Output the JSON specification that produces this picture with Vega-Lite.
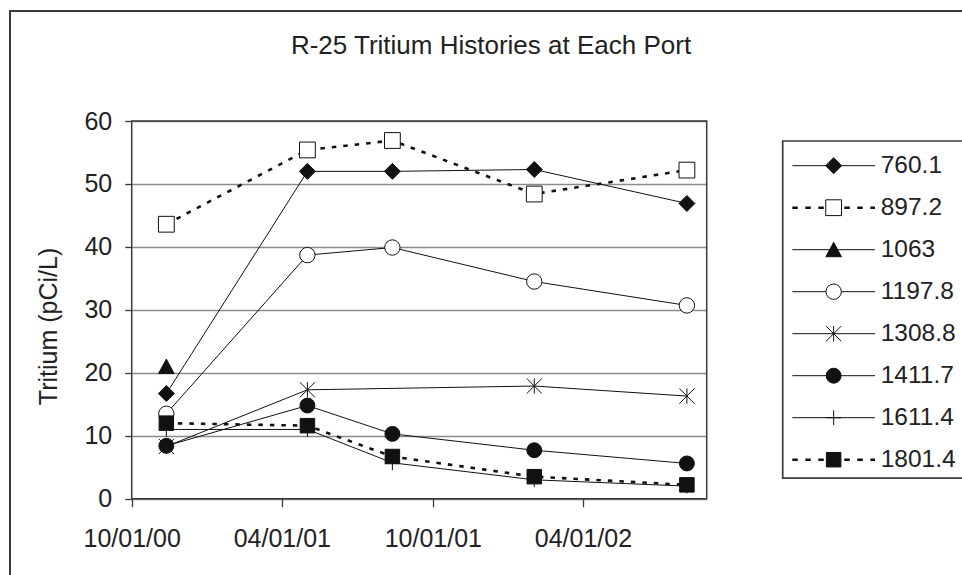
{
  "$schema": "https://vega.github.io/schema/vega-lite/v6.json",
  "autosize": "none",
  "padding": {"left": 10, "top": 11, "right": 0, "bottom": 0},
  "width": 980,
  "height": 590,
  "background": "white",
  "config": {"view": {"stroke": "#3a3a3a", "strokeWidth": 2}, "font": "Liberation Sans"},
  "title": {"text": "R-25 Tritium Histories at Each Port", "fontSize": 26, "fontWeight": "normal", "font": "Liberation Sans", "color": "#222", "anchor": "middle", "frame": "group", "baseline": "middle", "offset": -61, "dx": -9},
  "datasets": {
    "main": [
      {"port": "760.1", "date": "2000-11-12", "tritium": 16.7},
      {"port": "760.1", "date": "2001-05-02", "tritium": 52.0},
      {"port": "760.1", "date": "2001-08-13", "tritium": 52.0},
      {"port": "760.1", "date": "2002-02-01", "tritium": 52.3},
      {"port": "760.1", "date": "2002-08-05", "tritium": 46.9},
      {"port": "897.2", "date": "2000-11-12", "tritium": 43.6},
      {"port": "897.2", "date": "2001-05-02", "tritium": 55.4},
      {"port": "897.2", "date": "2001-08-13", "tritium": 56.9},
      {"port": "897.2", "date": "2002-02-01", "tritium": 48.4},
      {"port": "897.2", "date": "2002-08-05", "tritium": 52.2},
      {"port": "1063", "date": "2000-11-12", "tritium": 21.0},
      {"port": "1197.8", "date": "2000-11-12", "tritium": 13.5},
      {"port": "1197.8", "date": "2001-05-02", "tritium": 38.7},
      {"port": "1197.8", "date": "2001-08-13", "tritium": 39.9},
      {"port": "1197.8", "date": "2002-02-01", "tritium": 34.5},
      {"port": "1197.8", "date": "2002-08-05", "tritium": 30.7},
      {"port": "1308.8", "date": "2000-11-12", "tritium": 8.3},
      {"port": "1308.8", "date": "2001-05-02", "tritium": 17.3},
      {"port": "1308.8", "date": "2002-02-01", "tritium": 17.9},
      {"port": "1308.8", "date": "2002-08-05", "tritium": 16.3},
      {"port": "1411.7", "date": "2000-11-12", "tritium": 8.4},
      {"port": "1411.7", "date": "2001-05-02", "tritium": 14.8},
      {"port": "1411.7", "date": "2001-08-13", "tritium": 10.3},
      {"port": "1411.7", "date": "2002-02-01", "tritium": 7.7},
      {"port": "1411.7", "date": "2002-08-05", "tritium": 5.6},
      {"port": "1611.4", "date": "2000-11-12", "tritium": 11.0},
      {"port": "1611.4", "date": "2001-05-02", "tritium": 11.0},
      {"port": "1611.4", "date": "2001-08-13", "tritium": 5.7},
      {"port": "1611.4", "date": "2002-02-01", "tritium": 3.0},
      {"port": "1611.4", "date": "2002-08-05", "tritium": 2.0},
      {"port": "1801.4", "date": "2000-11-12", "tritium": 12.0},
      {"port": "1801.4", "date": "2001-05-02", "tritium": 11.6},
      {"port": "1801.4", "date": "2001-08-13", "tritium": 6.7},
      {"port": "1801.4", "date": "2002-02-01", "tritium": 3.5},
      {"port": "1801.4", "date": "2002-08-05", "tritium": 2.2}
    ],
    "legend": [
      {"port": "760.1", "ord": 0},
      {"port": "897.2", "ord": 1},
      {"port": "1063", "ord": 2},
      {"port": "1197.8", "ord": 3},
      {"port": "1308.8", "ord": 4},
      {"port": "1411.7", "ord": 5},
      {"port": "1611.4", "ord": 6},
      {"port": "1801.4", "ord": 7}
    ],
    "box": [{"box": "legend"}],
    "frame": [{"box": "plot"}]
  },
  "layer": [
    {
      "layer": [
        {
          "data": {"name": "frame"},
          "mark": {"type": "rect", "fill": "transparent", "stroke": "#3a3a3a", "strokeWidth": 1.5},
          "encoding": {
            "x": {"datum": {"year": 2000, "month": 10, "date": 1, "utc": true}, "type": "temporal",
                  "scale": {"type": "utc", "domain": [{"year": 2000, "month": 10, "date": 1, "utc": true}, {"year": 2002, "month": 8, "date": 29, "utc": true}], "range": [121.7, 696.7]},
                  "axis": {"orient": "bottom", "offset": -102.3, "values": [{"year": 2000, "month": 10, "date": 1, "utc": true}, {"year": 2001, "month": 4, "date": 1, "utc": true}, {"year": 2001, "month": 10, "date": 1, "utc": true}, {"year": 2002, "month": 4, "date": 1, "utc": true}], "format": "%m/%d/%y", "grid": false, "domain": false, "tickSize": 8, "tickColor": "#3a3a3a", "tickWidth": 1.3, "labelFontSize": 25, "labelColor": "#222", "labelPadding": 20, "labelFont": "Liberation Sans", "labelOverlap": false, "labelFlush": false, "title": null}},
            "x2": {"datum": {"year": 2002, "month": 8, "date": 29, "utc": true}},
            "y": {"datum": 0, "type": "quantitative",
                  "scale": {"domain": [0, 60], "range": [487.7, 110], "nice": false, "zero": true},
                  "axis": {"orient": "left", "offset": -121.7, "values": [0, 10, 20, 30, 40, 50, 60], "grid": true, "gridColor": "#8a8a8a", "gridWidth": 1.3, "domain": false, "tickSize": 7, "tickColor": "#3a3a3a", "tickWidth": 1.3, "labelFontSize": 25, "labelColor": "#222", "labelPadding": 13, "labelFont": "Liberation Sans", "title": "Tritium (pCi/L)", "titleFont": "Liberation Sans", "titleFontSize": 25, "titleFontWeight": "normal", "titleColor": "#222", "titleX": -83.7, "titleY": 315, "titleAngle": -90, "titleAlign": "center", "titleBaseline": "middle"}},
            "y2": {"datum": 60}
          }
        },
        {
          "data": {"name": "main"},
          "transform": [{"filter": {"field": "port", "oneOf": ["760.1", "1063", "1197.8", "1308.8", "1411.7", "1611.4"]}}],
          "mark": {"type": "line", "color": "#111", "strokeWidth": 1},
          "encoding": {
            "x": {"field": "date", "type": "temporal"},
            "y": {"field": "tritium", "type": "quantitative"},
            "detail": {"field": "port", "type": "nominal"}
          }
        },
        {
          "data": {"name": "main"},
          "transform": [{"filter": {"field": "port", "oneOf": ["897.2", "1801.4"]}}],
          "mark": {"type": "line", "color": "#111", "strokeWidth": 2.6, "strokeDash": [4.5, 7]},
          "encoding": {
            "x": {"field": "date", "type": "temporal"},
            "y": {"field": "tritium", "type": "quantitative"},
            "detail": {"field": "port", "type": "nominal"}
          }
        },
        {
          "data": {"name": "main"},
          "mark": {"type": "point", "filled": true, "stroke": "#111", "strokeWidth": 1, "opacity": 1},
          "encoding": {
            "x": {"field": "date", "type": "temporal"},
            "y": {"field": "tritium", "type": "quantitative"},
            "shape": {"field": "port", "type": "nominal", "legend": null,
                      "scale": {"domain": ["760.1", "897.2", "1063", "1197.8", "1308.8", "1411.7", "1611.4", "1801.4"],
                                "range": ["diamond", "square", "M0,-0.95L1,0.9L-1,0.9Z", "circle", "M-1,-1L1,1M-1,1L1,-1M0,-1L0,1", "circle", "M-1,0L1,0M0,-1L0,1", "square"]}},
            "fill": {"field": "port", "type": "nominal", "legend": null,
                     "scale": {"domain": ["760.1", "897.2", "1063", "1197.8", "1308.8", "1411.7", "1611.4", "1801.4"],
                               "range": ["#111", "#fff", "#111", "#fff", "#111", "#111", "#111", "#111"]}},
            "size": {"field": "port", "type": "ordinal", "legend": null,
                     "scale": {"domain": ["760.1", "897.2", "1063", "1197.8", "1308.8", "1411.7", "1611.4", "1801.4"],
                               "range": [256, 210, 260, 169, 256, 161, 196, 256]}}
          }
        }
      ]
    },
    {
      "layer": [
        {
          "data": {"name": "box"},
          "mark": {"type": "rect", "fill": "white", "stroke": "#3a3a3a", "strokeWidth": 1.7},
          "encoding": {
            "x": {"datum": -0.116, "type": "quantitative", "scale": {"domain": [0, 1], "range": [782.3, 865], "zero": false, "nice": false}, "axis": null},
            "x2": {"datum": 2.5},
            "y": {"datum": -0.588, "type": "quantitative", "scale": {"domain": [0, 7], "range": [154.7, 448.7], "zero": false, "nice": false}, "axis": null},
            "y2": {"datum": 7.44}
          }
        },
        {
          "data": {"name": "legend"},
          "transform": [{"filter": {"field": "port", "oneOf": ["760.1", "1063", "1197.8", "1308.8", "1411.7", "1611.4"]}}],
          "mark": {"type": "rule", "color": "#111", "strokeWidth": 1},
          "encoding": {
            "x": {"datum": 0, "type": "quantitative"},
            "x2": {"datum": 1},
            "y": {"field": "ord", "type": "quantitative"}
          }
        },
        {
          "data": {"name": "legend"},
          "transform": [{"filter": {"field": "port", "oneOf": ["897.2", "1801.4"]}}],
          "mark": {"type": "rule", "color": "#111", "strokeWidth": 2.6, "strokeDash": [5.5, 7.5]},
          "encoding": {
            "x": {"datum": 0, "type": "quantitative"},
            "x2": {"datum": 1},
            "y": {"field": "ord", "type": "quantitative"}
          }
        },
        {
          "data": {"name": "legend"},
          "mark": {"type": "point", "filled": true, "stroke": "#111", "strokeWidth": 1, "opacity": 1},
          "encoding": {
            "x": {"datum": 0.5, "type": "quantitative"},
            "y": {"field": "ord", "type": "quantitative"},
            "shape": {"field": "port", "type": "nominal", "legend": null},
            "fill": {"field": "port", "type": "nominal", "legend": null},
            "size": {"field": "port", "type": "ordinal", "legend": null}
          }
        },
        {
          "data": {"name": "legend"},
          "mark": {"type": "text", "align": "left", "baseline": "middle", "dx": 5.7, "fontSize": 24.5, "font": "Liberation Sans", "color": "#222"},
          "encoding": {
            "x": {"datum": 1, "type": "quantitative"},
            "y": {"field": "ord", "type": "quantitative"},
            "text": {"field": "port", "type": "nominal"}
          }
        }
      ]
    }
  ],
  "resolve": {"scale": {"x": "independent", "y": "independent"}, "axis": {"x": "independent", "y": "independent"}}
}
